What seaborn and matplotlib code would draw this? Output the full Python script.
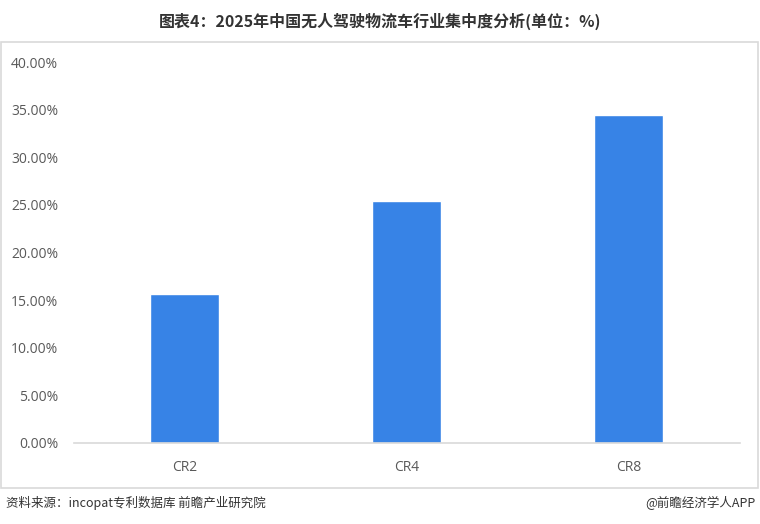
import matplotlib
matplotlib.use("Agg")
import matplotlib.pyplot as plt
import seaborn as sns
import pandas as pd
from matplotlib.patches import Rectangle
from matplotlib.ticker import FuncFormatter

categories = ["CR2", "CR4", "CR8"]
values = [15.6, 25.4, 34.4]
yticks = [0, 5, 10, 15, 20, 25, 30, 35, 40]

sns.set_style("white")
plt.rcParams['font.family'] = ['Noto Sans CJK SC', 'DejaVu Sans']

df = pd.DataFrame({"cat": categories, "val": values})

fig = plt.figure(figsize=(7.6, 5.24), dpi=100)
ax = fig.add_axes([73.5/760, 1-443/524, 666/760, 381/524])
sns.barplot(data=df, x="cat", y="val", color="#3783E6", width=0.31, ax=ax, saturation=1)

ax.set_ylim(0, 40)
ax.set_yticks(yticks)
ax.yaxis.set_major_formatter(FuncFormatter(lambda v, p: f"{v:.2f}%"))
ax.set_xlabel("")
ax.set_ylabel("")
for s in ["top", "right", "left"]:
    ax.spines[s].set_visible(False)
ax.spines["bottom"].set_color("#D9D9D9")
ax.spines["bottom"].set_linewidth(1.2)
ax.tick_params(axis="both", length=0, labelsize=10, labelcolor="#595959")
ax.tick_params(axis="y", pad=11)
ax.tick_params(axis="x", pad=12)
for lab in ax.get_yticklabels():
    lab.set_fontfamily(['Open Sans', 'DejaVu Sans'])
for lab in ax.get_xticklabels():
    lab.set_fontfamily(['Open Sans', 'DejaVu Sans'])

fig.patches.append(Rectangle((1/760, 1-488/524), 757/760, 446/524, transform=fig.transFigure,
                             fill=False, edgecolor="#D9D9D9", linewidth=1.2))

fig.text(0.5, 1-21/524, "图表4：2025年中国无人驾驶物流车行业集中度分析(单位：%)", ha="center", va="center",
         fontsize=11.5, fontweight="bold", color="#333333")
fig.text(6/760, 1-503/524, "资料来源：incopat专利数据库 前瞻产业研究院", ha="left", va="center",
         fontsize=9, color="#333333")
fig.text(756/760, 1-503/524, "@前瞻经济学人APP", ha="right", va="center",
         fontsize=9, color="#333333")

fig.savefig("out.png", dpi=100)
